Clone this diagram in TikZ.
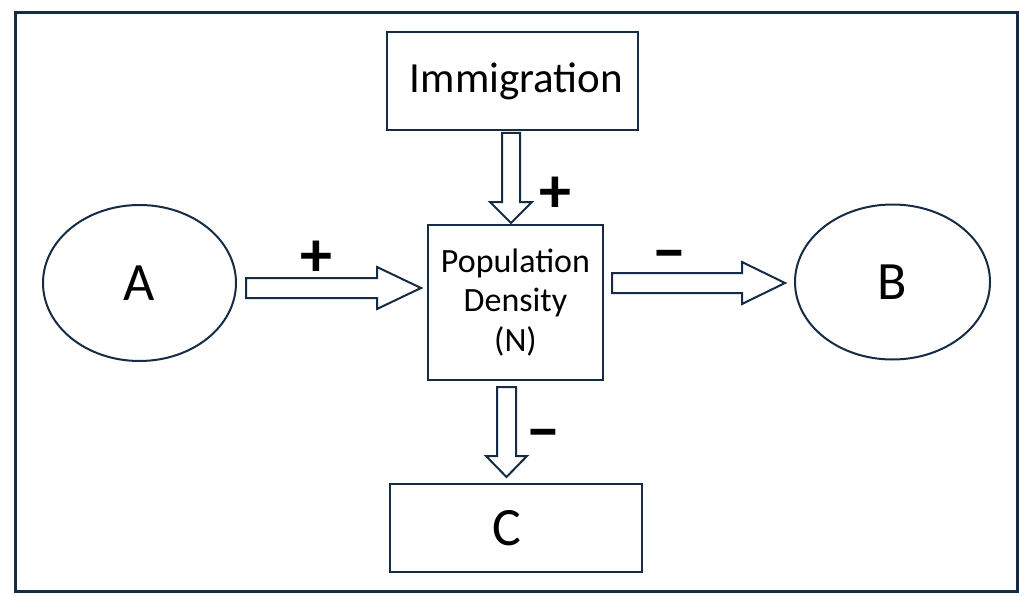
\documentclass[tikz,border=0pt]{standalone}
\usepackage{fontspec}
\setmainfont{Carlito}
\usetikzlibrary{shapes.geometric,calc}
\definecolor{navy}{HTML}{162C44}
\tikzset{
  box/.style={draw=navy, line width=2pt, fill=white, inner sep=0pt, align=center},
  oval/.style={ellipse, draw=navy, line width=2pt, fill=white, inner sep=0pt},
  blockarrow/.style={draw=navy, line width=2pt, fill=white, line join=miter},
  sign/.style={anchor=base, inner sep=0pt, font=\fontsize{64}{64}\selectfont\bfseries},
  frame/.style={draw=navy, line width=3pt}
}
% horizontal block arrow: start, tip, shaft half width, head half width, head length
\newcommand{\harrowblk}[5]{%
  \draw[blockarrow] ($(#1)+(0,-#3)$) -- ($(#2)+(-#5,-#3)$) -- ($(#2)+(-#5,-#4)$) -- (#2)
    -- ($(#2)+(-#5,#4)$) -- ($(#2)+(-#5,#3)$) -- ($(#1)+(0,#3)$) -- cycle;}
% downward block arrow
\newcommand{\varrowblk}[5]{%
  \draw[blockarrow] ($(#1)+(-#3,0)$) -- ($(#2)+(-#3,-#5)$) -- ($(#2)+(-#4,-#5)$) -- (#2)
    -- ($(#2)+(#4,-#5)$) -- ($(#2)+(#3,-#5)$) -- ($(#1)+(#3,0)$) -- cycle;}
\begin{document}
\begin{tikzpicture}[x=1pt,y=-1pt]
\useasboundingbox (0,0) rectangle (1024,596);
\fill[white] (0,0) rectangle (1024,596);
\draw[frame] (15,13) rectangle (1017,591);

\node[box, minimum width=251pt, minimum height=98pt, font=\fontsize{43}{50}\selectfont] (I) at (512.5,81) {\kern8pt Immigration};
\node[box, minimum width=175pt, minimum height=155pt, font=\fontsize{34}{39.5}\selectfont] (N) at (515.5,302.5) {Population\\Density\\(N)};
\node[box, minimum width=252pt, minimum height=88pt, font=\fontsize{54}{60}\selectfont] (C) at (516,528) {\kern-18pt C};
\node[oval, minimum width=193pt, minimum height=156pt, font=\fontsize{54}{60}\selectfont] (A) at (139.5,283) {A};
\node[oval, minimum width=195pt, minimum height=155pt, font=\fontsize{54}{60}\selectfont] (B) at (892.5,282) {B};

\coordinate (ANs) at (246,288);   \coordinate (ANt) at (421,288);
\coordinate (NBs) at (612,283);   \coordinate (NBt) at (785,283);
\coordinate (INs) at (511,133);   \coordinate (INt) at (511,223);
\coordinate (NCs) at (506.5,387); \coordinate (NCt) at (506.5,477);

\harrowblk{ANs}{ANt}{10}{21}{44}
\harrowblk{NBs}{NBt}{10}{21}{43}
\varrowblk{INs}{INt}{9}{21}{21}
\varrowblk{NCs}{NCt}{9.5}{20.5}{21}

\node[sign] (p1) at (316,276) {+};
\node[sign] (p2) at (555.5,212.5) {+};
\node[sign] (m1) at (669,273) {−};
\node[sign] (m2) at (543.5,452.5) {−};
\end{tikzpicture}
\end{document}
